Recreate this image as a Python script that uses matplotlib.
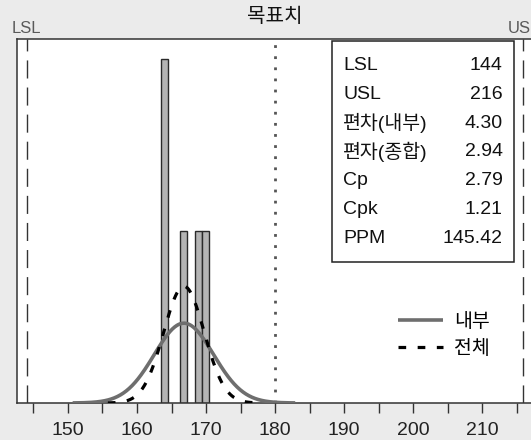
import numpy as np
import matplotlib
matplotlib.use("Agg")
import matplotlib.pyplot as plt
from matplotlib.patches import Rectangle

plt.rcParams['font.family'] = ['Liberation Sans', 'Noto Sans CJK KR', 'DejaVu Sans']

# histogram of the measured values
bin_centers = [163.95, 166.72, 168.9, 169.95]
counts = [2, 1, 1, 1]
bar_width = 1.05

# process stats
lsl, usl, target = 144, 216, 180
mean = 166.8
n_obs = 5
sd_within = 4.30
sd_overall = 2.94

stat_names = ['LSL', 'USL', '편차(내부)', '편자(종합)', 'Cp', 'Cpk', 'PPM']
stat_values = ['144', '216', '4.30', '2.94', '2.79', '1.21', '145.42']


def normal_curve(sd, k=3.75):
    x = np.linspace(mean - k * sd, mean + k * sd, 300)
    y = n_obs * np.exp(-0.5 * ((x - mean) / sd) ** 2) / (sd * np.sqrt(2 * np.pi))
    return x, y


fig = plt.figure(figsize=(5.31, 4.40), dpi=100, facecolor='#ebebeb')
ax = fig.add_axes([0.0315, 0.0841, 0.9723, 0.8273])
ax.set_facecolor('white')

ax.bar(bin_centers, counts, width=bar_width, color='#b4b4b4', edgecolor='#2a2a2a', linewidth=1, zorder=2)

xw, yw = normal_curve(sd_within)
xo, yo = normal_curve(sd_overall)
ax.plot(xw, yw, color='#6e6e6e', lw=2.6, solid_capstyle='butt', label='내부', zorder=3)
ax.plot(xo, yo, color='black', lw=2.3, linestyle=(0, (2.4, 3.6)), label='전체', zorder=4)

# spec limits and target
for v in (lsl, usl):
    ax.axvline(v, color='#333333', lw=1.0, linestyle=(0, (13, 6.5)), zorder=1)
ax.axvline(target, color='#555555', lw=2.0, linestyle=(0, (1, 3)), zorder=1)

trans = ax.get_xaxis_transform()
ax.text(lsl, 1.008, 'LSL', transform=trans, ha='center', va='bottom', fontsize=12, color='#5a5a5a')
ax.text(usl, 1.008, 'USL', transform=trans, ha='center', va='bottom', fontsize=12, color='#5a5a5a')
ax.text(target, 1.035, '목표치', transform=trans, ha='center', va='bottom', fontsize=14.5, color='#111111')

ax.set_xlim(142.57, 217.39)
ax.set_ylim(0, 2.116)
ax.set_xticks(np.arange(150, 211, 10))
ax.set_xticks(np.arange(145, 216, 5), minor=True)
ax.tick_params(axis='x', which='both', direction='out', length=7, width=1, color='#333333',
               labelsize=14, labelcolor='#222222', pad=7)
ax.tick_params(axis='y', left=False, labelleft=False)
for s in ax.spines.values():
    s.set_color('#333333')
    s.set_linewidth(1.1)

# stats table
ax.add_patch(Rectangle((0.611, 0.3874), 0.352, 0.6071, transform=ax.transAxes,
                       facecolor='white', edgecolor='#222222', lw=1.1, zorder=5))
row_y = 0.9266
for name, val in zip(stat_names, stat_values):
    ax.text(0.6326, row_y, name, transform=ax.transAxes, ha='left', va='center',
            fontsize=14, color='#111111', zorder=6)
    ax.text(0.9413, row_y, val, transform=ax.transAxes, ha='right', va='center',
            fontsize=14, color='#111111', zorder=6)
    row_y -= 0.0789

ax.legend(loc='center left', bbox_to_anchor=(0.7385, 0.1854), frameon=False,
          fontsize=14, handlelength=2.3, handletextpad=0.6, borderpad=0,
          borderaxespad=0, labelspacing=0.45)

fig.savefig('out.png', dpi=100, facecolor=fig.get_facecolor())
